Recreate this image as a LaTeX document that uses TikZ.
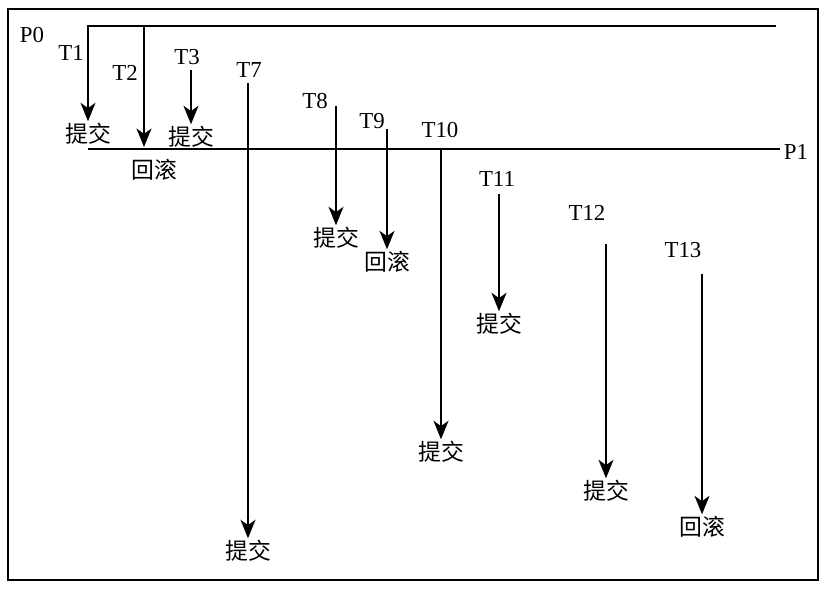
\documentclass[tikz,border=0pt]{standalone}
\usepackage{fontspec}
\setmainfont{Liberation Serif}
\newfontfamily\cjk{Noto Sans CJK SC}
\usetikzlibrary{arrows.meta, positioning}

\begin{document}
\begin{tikzpicture}[
  x=0.02cm, y=-0.02cm,
  line/.style={line width=1.2pt, black},
  arrow/.style={line, -{Stealth[length=10.5pt, width=8.5pt, inset=3pt]}},
  tlabel/.style={font=\fontsize{13}{15}\selectfont, inner sep=1pt},
  result/.style={font=\cjk\fontsize{13}{15}\selectfont, inner sep=1pt}
]
\useasboundingbox (0,0) rectangle (825,589);
\draw[line width=1.4pt] (8,9) rectangle (818,580);

% processes
\node[tlabel] (p0) at (32,35) {P0};
\node[tlabel] (p1) at (796,152) {P1};
\coordinate (p0e) at (776,26);
\coordinate (p1s) at (88,149);
\coordinate (p1e) at (780,149);
\draw[line] (p1s) -- (p1e);

% transactions
\node[tlabel] (t1) at (71,53) {T1};
\node[result] (r1) at (88,134) {提交};
\draw[arrow] (p0e) -| (r1);

\node[tlabel] (t2) at (125,73) {T2};
\coordinate (s2) at (144,26);
\coordinate (e2) at (144,147);
\node[result] (r2) at (154,170) {回滚};
\draw[arrow] (s2) -- (e2);

\node[tlabel] (t3) at (187,57) {T3};
\coordinate (s3) at (191,70);
\node[result] (r3) at (191,137) {提交};
\draw[arrow] (s3) -- (r3);

\node[tlabel] (t7) at (249,70) {T7};
\coordinate (s7) at (248,83);
\node[result] (r7) at (248,551) {提交};
\draw[arrow] (s7) -- (r7);

\node[tlabel] (t8) at (315,101) {T8};
\coordinate (s8) at (336,106);
\node[result] (r8) at (336,238) {提交};
\draw[arrow] (s8) -- (r8);

\node[tlabel] (t9) at (372,121) {T9};
\coordinate (s9) at (387,129);
\node[result] (r9) at (387,262) {回滚};
\draw[arrow] (s9) -- (r9);

\node[tlabel] (t10) at (440,130) {T10};
\coordinate (s10) at (441,149);
\node[result] (r10) at (441,452) {提交};
\draw[arrow] (s10) -- (r10);

\node[tlabel] (t11) at (497,179) {T11};
\coordinate (s11) at (499,194);
\node[result] (r11) at (499,324) {提交};
\draw[arrow] (s11) -- (r11);

\node[tlabel] (t12) at (587,213) {T12};
\coordinate (s12) at (606,244);
\node[result] (r12) at (606,491) {提交};
\draw[arrow] (s12) -- (r12);

\node[tlabel] (t13) at (683,250) {T13};
\coordinate (s13) at (702,274);
\node[result] (r13) at (702,527) {回滚};
\draw[arrow] (s13) -- (r13);

\end{tikzpicture}
\end{document}
